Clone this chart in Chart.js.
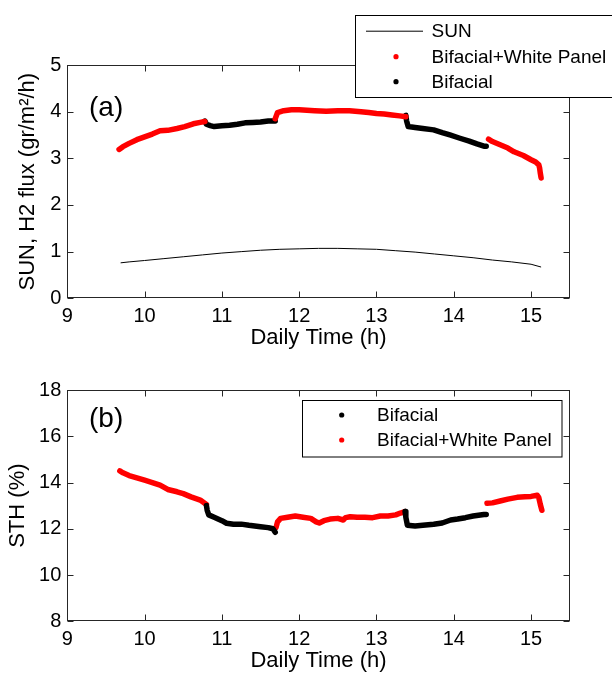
<!DOCTYPE html>
<html>
  <head>
    <style>
      * {
        margin: 0;
        padding: 0;
      }
      body {
        width: 612px;
        height: 675px;
        background: #fff;
        overflow: hidden;
        position: relative;
      }
      .panel {
        position: absolute;
        left: 0;
        width: 612px;
      }
      #panelA {
        top: 0;
        height: 360px;
      }
      #panelB {
        top: 360px;
        height: 315px;
      }
    </style>
  </head>
  <body>
    <div class="panel" id="panelA"><canvas id="chartA" width="612" height="360"></canvas></div>
    <div class="panel" id="panelB"><canvas id="chartB" width="612" height="315"></canvas></div>
    <script src="https://cdn.jsdelivr.net/npm/chart.js/dist/chart.umd.min.js"></script>
    <script>
      // ---- data, panel (a) ----
      const sunTime = [9.69, 9.8, 10.0, 10.25, 10.5, 10.75, 11.0, 11.25, 11.5, 11.75, 12.0, 12.25, 12.5, 12.75, 13.0, 13.25, 13.5, 13.75, 14.0, 14.25, 14.5, 14.75, 15.0, 15.13];
      const sunFlux = [0.76, 0.78, 0.81, 0.85, 0.89, 0.93, 0.97, 1.0, 1.03, 1.05, 1.06, 1.07, 1.07, 1.06, 1.05, 1.02, 0.99, 0.95, 0.91, 0.87, 0.82, 0.78, 0.73, 0.67];

      const whiteTimeA = [9.67, 9.72, 9.8, 9.9, 10.0, 10.1, 10.2, 10.3, 10.42, 10.52, 10.63, 10.72, 10.78, null,
        11.69, 11.72, 11.8, 11.9, 12.0, 12.1, 12.2, 12.35, 12.5, 12.65, 12.8, 12.9, 13.0, 13.1, 13.2, 13.3, 13.38, null,
        14.45, 14.5, 14.6, 14.7, 14.78, 14.9, 15.0, 15.06, 15.1, 15.11, 15.12, 15.13];
      const whiteFluxA = [3.19, 3.25, 3.32, 3.4, 3.46, 3.52, 3.59, 3.6, 3.64, 3.68, 3.74, 3.77, 3.79, null,
        3.85, 3.98, 4.02, 4.04, 4.04, 4.03, 4.02, 4.01, 4.02, 4.02, 4.0, 3.98, 3.96, 3.95, 3.93, 3.91, 3.89, null,
        3.41, 3.36, 3.29, 3.22, 3.14, 3.06, 2.97, 2.92, 2.86, 2.8, 2.68, 2.58];

      const bifTimeA = [10.78, 10.8, 10.85, 10.9, 11.0, 11.1, 11.2, 11.3, 11.4, 11.5, 11.6, 11.69, null,
        13.38, 13.39, 13.41, 13.5, 13.6, 13.74, 13.85, 13.95, 14.08, 14.2, 14.3, 14.39, 14.42];
      const bifFluxA = [3.8, 3.73, 3.7, 3.68, 3.7, 3.71, 3.73, 3.76, 3.77, 3.78, 3.8, 3.8, null,
        3.92, 3.8, 3.68, 3.66, 3.64, 3.61, 3.55, 3.5, 3.43, 3.37, 3.31, 3.26, 3.26];

      // ---- data, panel (b) ----
      const whiteTimeB = [9.68, 9.72, 9.8, 9.9, 10.0, 10.1, 10.2, 10.3, 10.42, 10.5, 10.6, 10.72, 10.8, null,
        11.7, 11.72, 11.76, 11.85, 11.95, 12.05, 12.15, 12.22, 12.26, 12.32, 12.4, 12.5, 12.57, 12.6, 12.66, 12.75, 12.85, 12.95, 13.05, 13.15, 13.25, 13.31, 13.37, null,
        14.43, 14.5, 14.6, 14.7, 14.82, 14.92, 15.0, 15.08, 15.1, 15.12, 15.14];
      const whiteSthB = [14.5, 14.42, 14.3, 14.2, 14.1, 14.0, 13.89, 13.7, 13.6, 13.52, 13.38, 13.24, 13.05, null,
        12.05, 12.3, 12.45, 12.5, 12.55, 12.5, 12.45, 12.3, 12.25, 12.35, 12.42, 12.45, 12.38, 12.48, 12.52, 12.5, 12.5, 12.48, 12.55, 12.55, 12.6, 12.68, 12.74, null,
        13.1, 13.12, 13.2, 13.28, 13.36, 13.38, 13.4, 13.45, 13.35, 13.05, 12.8];

      const bifTimeB = [10.8, 10.81, 10.83, 10.9, 11.0, 11.06, 11.15, 11.25, 11.35, 11.5, 11.6, 11.66, 11.69, null,
        13.37, 13.38, 13.4, 13.5, 13.6, 13.74, 13.85, 13.96, 14.05, 14.15, 14.25, 14.39, 14.42];
      const bifSthB = [13.0, 12.8, 12.6, 12.5, 12.35, 12.24, 12.2, 12.2, 12.15, 12.09, 12.05, 12.0, 11.85, null,
        12.75, 12.5, 12.15, 12.12, 12.15, 12.2, 12.25, 12.38, 12.42, 12.48, 12.55, 12.62, 12.62];

      // ---- ticks ----
      const timeTicks = [9, 10, 11, 12, 13, 14, 15];
      const fluxTicks = [0, 1, 2, 3, 4, 5];
      const sthTicks = [8, 10, 12, 14, 16, 18];

      const FONT = "'Liberation Sans', Arial, sans-serif";
      Chart.defaults.font.family = FONT;
      Chart.defaults.color = "#000";

      function pts(xs, ys) {
        return xs.map((x, i) => ({ x: x, y: ys[i] }));
      }

      function dotSeries(label, xs, ys, color) {
        return {
          label: label,
          data: pts(xs, ys),
          showLine: true,
          spanGaps: false,
          borderColor: color,
          backgroundColor: color,
          borderWidth: 5.5,
          borderCapStyle: "round",
          borderJoinStyle: "round",
          pointRadius: 0,
        };
      }

      // box frame with inward ticks on all four sides
      const framePlugin = {
        id: "frame",
        beforeDatasetsDraw(chart) {
          const { ctx, chartArea: a } = chart;
          const x = chart.scales.x, y = chart.scales.y;
          const L = Math.round(a.left) + 0.5, R = Math.round(a.right) - 0.5;
          const T = Math.round(a.top) + 0.5, B = Math.round(a.bottom) - 0.5;
          ctx.save();
          ctx.strokeStyle = "#262626";
          ctx.lineWidth = 1;
          ctx.strokeRect(L, T, R - L, B - T);
          ctx.beginPath();
          x.ticks.forEach((t) => {
            const px = Math.round(x.getPixelForValue(t.value)) + 0.5;
            ctx.moveTo(px, B); ctx.lineTo(px, B - 6);
            ctx.moveTo(px, T); ctx.lineTo(px, T + 6);
          });
          y.ticks.forEach((t) => {
            const py = Math.round(y.getPixelForValue(t.value)) + 0.5;
            ctx.moveTo(L, py); ctx.lineTo(L + 6, py);
            ctx.moveTo(R, py); ctx.lineTo(R - 6, py);
          });
          ctx.stroke();
          ctx.restore();
        },
      };

      // legend box + panel letter
      function boxLegend(cfg) {
        return {
          id: "boxLegend",
          afterDraw(chart) {
            const ctx = chart.ctx;
            ctx.save();
            ctx.font = "28px " + FONT;
            ctx.fillStyle = "#000";
            ctx.textBaseline = "alphabetic";
            ctx.fillText(cfg.letter, cfg.letterX, cfg.letterY);

            ctx.fillStyle = "#fff";
            ctx.fillRect(cfg.left, cfg.top, cfg.width, cfg.height);
            ctx.strokeStyle = "#000";
            ctx.lineWidth = 1;
            ctx.strokeRect(cfg.left + 0.5, cfg.top + 0.5, cfg.width, cfg.height);
            ctx.font = "19px " + FONT;
            ctx.textBaseline = "middle";
            cfg.order.forEach((di, i) => {
              const ds = chart.data.datasets[di];
              const ry = cfg.rows[i];
              if (ds.borderWidth <= 1) {
                ctx.strokeStyle = ds.borderColor;
                ctx.beginPath();
                ctx.moveTo(cfg.lineX0, ry + 0.5);
                ctx.lineTo(cfg.lineX1, ry + 0.5);
                ctx.stroke();
              } else {
                ctx.fillStyle = ds.borderColor;
                ctx.beginPath();
                ctx.arc(cfg.dotX, ry, 2.6, 0, Math.PI * 2);
                ctx.fill();
              }
              ctx.fillStyle = "#000";
              ctx.fillText(ds.label, cfg.textX, ry + 1);
            });
            ctx.restore();
          },
        };
      }

      function scalesFor(opt) {
        return {
          x: {
            type: "linear",
            min: 9,
            max: 15.5,
            afterBuildTicks: (s) => { s.ticks = timeTicks.map((v) => ({ value: v })); },
            afterFit: (s) => { s.height = opt.xHeight; },
            grid: { display: false, drawTicks: false },
            border: { display: false },
            ticks: { font: { size: 20 }, padding: 6, color: "#000" },
            title: {
              display: true,
              text: "Daily Time (h)",
              font: { size: 22 },
              color: "#000",
              padding: { top: 0, bottom: opt.xTitlePad },
            },
          },
          y: {
            type: "linear",
            min: opt.yMin,
            max: opt.yMax,
            afterBuildTicks: (s) => { s.ticks = opt.yTicks.map((v) => ({ value: v })); },
            afterFit: (s) => { s.width = 67.3; },
            grid: { display: false, drawTicks: false },
            border: { display: false },
            ticks: { font: { size: 20 }, padding: 6, color: "#000" },
            title: {
              display: true,
              text: opt.yTitle,
              font: { size: 22 },
              color: "#000",
              padding: { top: opt.yTitlePad, bottom: 0 },
            },
          },
        };
      }

      const baseOptions = {
        responsive: false,
        animation: false,
        devicePixelRatio: 1,
        plugins: { legend: { display: false }, tooltip: { enabled: false } },
      };

      // panel (a)
      new Chart(document.getElementById("chartA"), {
        type: "scatter",
        data: {
          datasets: [
            {
              label: "SUN",
              data: pts(sunTime, sunFlux),
              showLine: true,
              borderColor: "#000",
              backgroundColor: "#000",
              borderWidth: 1,
              pointRadius: 0,
            },
            dotSeries("Bifacial+White Panel", whiteTimeA, whiteFluxA, "#ff0000"),
            dotSeries("Bifacial", bifTimeA, bifFluxA, "#000000"),
          ],
        },
        options: Object.assign({}, baseOptions, {
          layout: { padding: { left: 0, top: 65, right: 42.3, bottom: 0 } },
          scales: scalesFor({
            xHeight: 61.7, xTitlePad: 9, yMin: 0, yMax: 5, yTicks: fluxTicks,
            yTitle: "SUN, H2 flux (gr/m²/h)", yTitlePad: 15,
          }),
        }),
        plugins: [
          framePlugin,
          boxLegend({
            letter: "(a)", letterX: 89, letterY: 115.5,
            left: 355, top: 15, width: 262, height: 82,
            order: [0, 1, 2], rows: [30.7, 56.7, 81.7],
            lineX0: 366, lineX1: 423, dotX: 396, textX: 431.5,
          }),
        ],
      });

      // panel (b)
      new Chart(document.getElementById("chartB"), {
        type: "scatter",
        data: {
          datasets: [
            dotSeries("Bifacial", bifTimeB, bifSthB, "#000000"),
            dotSeries("Bifacial+White Panel", whiteTimeB, whiteSthB, "#ff0000"),
          ],
        },
        options: Object.assign({}, baseOptions, {
          layout: { padding: { left: 0, top: 30, right: 42.3, bottom: 0 } },
          scales: scalesFor({
            xHeight: 53.7, xTitlePad: 1, yMin: 8, yMax: 18, yTicks: sthTicks,
            yTitle: "STH (%)", yTitlePad: 4.4,
          }),
        }),
        plugins: [
          framePlugin,
          boxLegend({
            letter: "(b)", letterX: 89, letterY: 67,
            left: 302, top: 40, width: 259.5, height: 56.5,
            order: [0, 1], rows: [55, 80],
            lineX0: 0, lineX1: 0, dotX: 341.7, textX: 377,
          }),
        ],
      });
    </script>
  </body>
</html>
